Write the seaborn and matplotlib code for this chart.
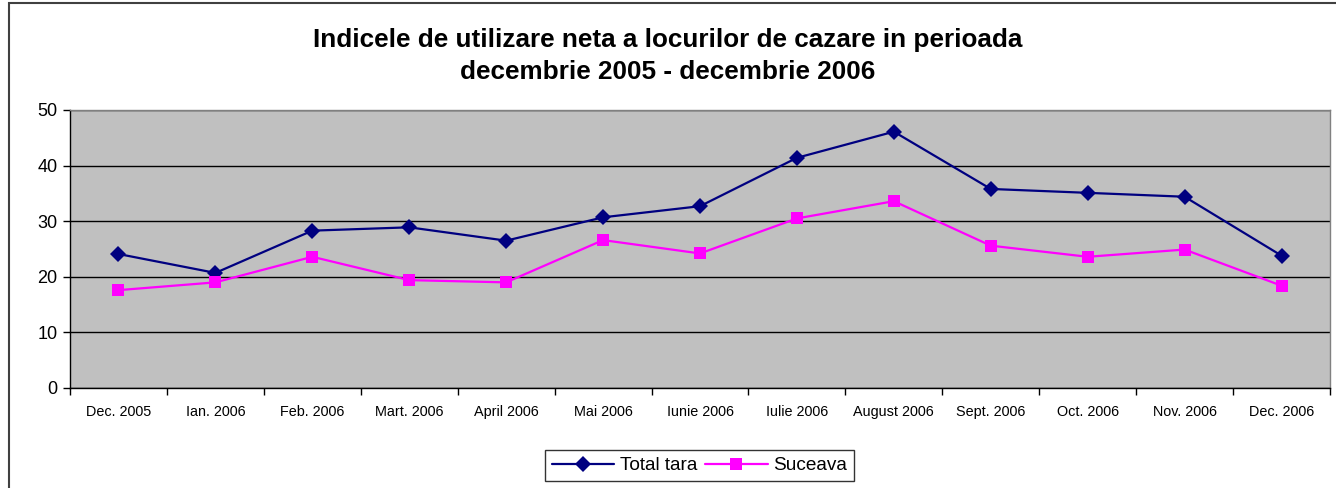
import matplotlib
matplotlib.use("Agg")
import matplotlib.pyplot as plt
import seaborn as sns
import pandas as pd
import numpy as np
from matplotlib.patches import Rectangle
from matplotlib.ticker import FixedLocator

months = ["Dec. 2005", "Ian. 2006", "Feb. 2006", "Mart. 2006", "April 2006", "Mai 2006",
          "Iunie 2006", "Iulie 2006", "August 2006", "Sept. 2006", "Oct. 2006", "Nov. 2006",
          "Dec. 2006"]
total_tara = [24.1, 20.7, 28.3, 28.9, 26.5, 30.7, 32.7, 41.4, 46.1, 35.8, 35.1, 34.4, 23.8]
suceava = [17.6, 19.0, 23.6, 19.4, 19.0, 26.6, 24.2, 30.5, 33.6, 25.6, 23.6, 24.9, 18.4]
series_names = ["Total tara", "Suceava"]
title = "Indicele de utilizare neta a locurilor de cazare in perioada\ndecembrie 2005 - decembrie 2006"

sns.set_theme(style="white")
plt.rcParams["font.family"] = ["Liberation Sans", "DejaVu Sans"]
plt.rcParams["text.color"] = "black"

df = pd.DataFrame({
    "idx": list(range(len(months))) * 2,
    "val": total_tara + suceava,
    "serie": [series_names[0]] * len(months) + [series_names[1]] * len(months),
})

W, H = 1336, 488
fig = plt.figure(figsize=(W / 100, H / 100), dpi=100)
fig.patch.set_facecolor("white")
ax = fig.add_axes([70 / W, (H - 388) / H, 1260 / W, 278 / H])
ax.set_facecolor("#C0C0C0")

palette = {series_names[0]: "#000080", series_names[1]: "#FF00FF"}
markers = {series_names[0]: "D", series_names[1]: "s"}
sns.lineplot(data=df, x="idx", y="val", hue="serie", style="serie", palette=palette,
             markers=markers, dashes=False, markersize=8, linewidth=1.6,
             markeredgewidth=0, ax=ax)

ax.set_xlim(-0.5, len(months) - 0.5)
ax.set_ylim(0, 50)
ax.set_yticks([0, 10, 20, 30, 40, 50])
ax.set_yticklabels(["0", "10", "20", "30", "40", "50"], fontsize=13, color="black")
ax.yaxis.grid(True, color="black", linewidth=1)
ax.set_axisbelow(True)

ax.set_xticks(range(len(months)))
ax.set_xticklabels(months, fontsize=10.4, color="black")
ax.xaxis.set_minor_locator(FixedLocator(np.arange(-0.5, len(months), 1.0)))
ax.tick_params(axis="x", which="major", length=0, pad=12)
ax.tick_params(axis="x", which="minor", length=5, width=1, color="black", direction="out", bottom=True)
ax.tick_params(axis="y", which="major", length=5, width=1, color="black", direction="out", left=True, pad=4)
ax.set_xlabel("")
ax.set_ylabel("")

for s in ["top", "right"]:
    ax.spines[s].set_color("#808080")
    ax.spines[s].set_linewidth(1)
for s in ["left", "bottom"]:
    ax.spines[s].set_color("black")
    ax.spines[s].set_linewidth(1)

leg = ax.legend(loc="center", bbox_to_anchor=(699.5 / W, (H - 465.5) / H),
                bbox_transform=fig.transFigure, ncol=2, frameon=True, fancybox=False,
                fontsize=13.7, handlelength=3.3, columnspacing=0.4, handletextpad=0.3,
                borderpad=0.35, title=None)
leg.get_frame().set_edgecolor("black")
leg.get_frame().set_linewidth(1)
for t in leg.get_texts():
    t.set_color("black")

fig.text(0.5, 1 - 56 / H, title, ha="center", va="center", fontsize=18.8,
         fontweight="bold", linespacing=1.4, color="black")

fig.patches.append(Rectangle((9 / W, -0.1), 2, 1.1 - 3 / H, transform=fig.transFigure,
                             fill=False, edgecolor="#404040", linewidth=1.5))

fig.savefig("out.png", dpi=100)
